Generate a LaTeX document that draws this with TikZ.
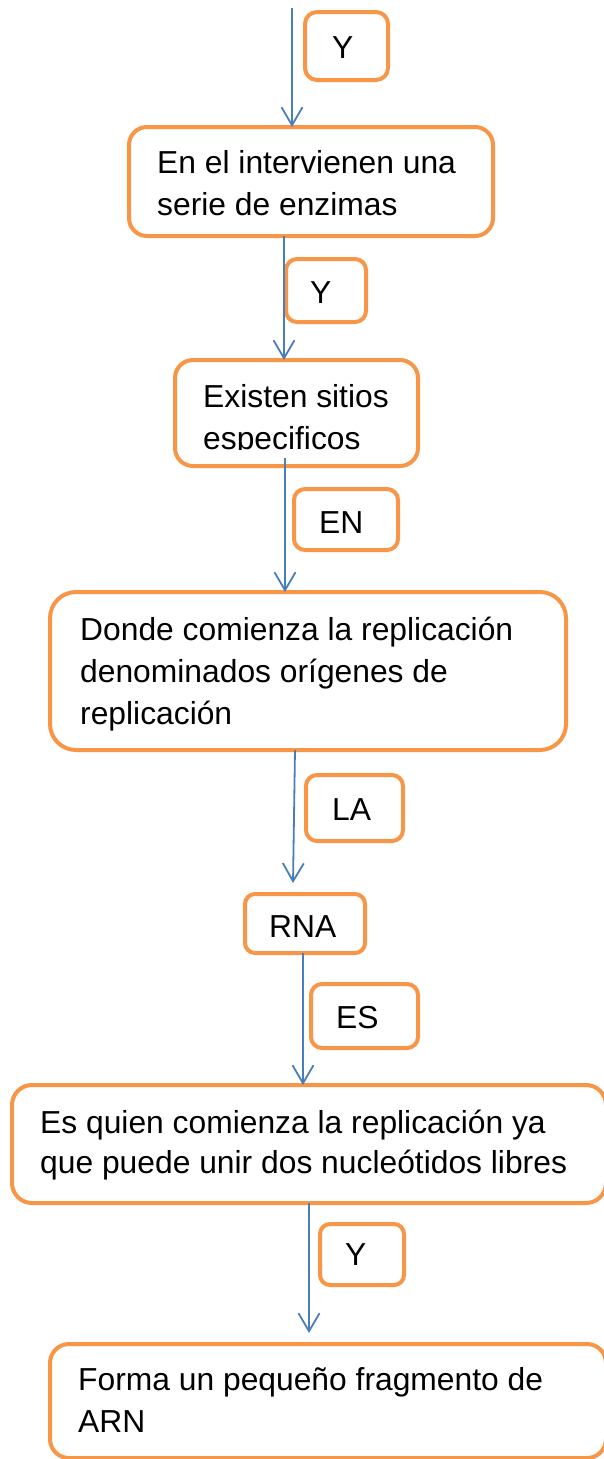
\documentclass[tikz,border=0pt]{standalone}
\usepackage{fontspec}
\setmainfont{Liberation Sans}
\usetikzlibrary{arrows.meta}
\definecolor{boxorange}{HTML}{F79646}
\definecolor{arrowblue}{HTML}{4A7EBB}
\newcommand\bigtxt{\fontsize{31.8}{42}\selectfont}
\begin{document}
\begin{tikzpicture}[x=1pt,y=-1pt,
  box/.style={draw=boxorange, line width=4pt, fill=white, inner sep=0pt, outer sep=0pt, anchor=north west},
  lbl/.style={anchor=base west, inner sep=0pt, font=\bigtxt, text=black},
  arr/.style={draw=arrowblue, line width=1.8pt, -{Straight Barb[length=18pt,width=21pt,line width=1.8pt]}}]
\useasboundingbox (0,0) rectangle (604,1459);
\fill[white] (0,0) rectangle (604,1459);
% boxes
\node[box, rounded corners=12pt, minimum width=83pt,  minimum height=68pt]  (y1)  at (305,12)  {};
\node[box, rounded corners=18pt, minimum width=364pt, minimum height=109pt] (b1)  at (129,127) {};
\node[box, rounded corners=11pt, minimum width=80pt,  minimum height=63pt]  (y2)  at (286,259) {};
\node[box, rounded corners=18pt, minimum width=243pt, minimum height=106pt] (b2)  at (175,360) {};
\node[box, rounded corners=11pt, minimum width=104pt, minimum height=61pt]  (en)  at (294,489) {};
\node[box, rounded corners=26pt, minimum width=516pt, minimum height=158pt] (b3)  at (50,592)  {};
\node[box, rounded corners=11pt, minimum width=97pt,  minimum height=66pt]  (la)  at (306,775) {};
\node[box, rounded corners=10pt, minimum width=120pt, minimum height=59pt]  (rna) at (245,894) {};
\node[box, rounded corners=11pt, minimum width=107pt, minimum height=64pt]  (es)  at (311,984) {};
\node[box, rounded corners=20pt, minimum width=594pt, minimum height=118pt] (b4)  at (12,1085) {};
\node[box, rounded corners=10pt, minimum width=84pt,  minimum height=61pt]  (y4)  at (320,1224) {};
\node[box, rounded corners=19pt, minimum width=556pt, minimum height=114pt] (b5)  at (50,1344) {};
% texts
\node[lbl] (ty1) at (332,58) {Y};
\node[lbl] (t1a) at (157,173) {En el intervienen una};
\node[lbl] (t1b) at (157,215) {serie de enzimas};
\node[lbl] (ty2) at (310,303) {Y};
\node[lbl] (t2a) at (203,407) {Existen sitios};
\begin{scope}
\clip (150,420) rectangle (440,449.5);
\node[lbl] (t2b) at (203,449) {especificos};
\end{scope}
\node[lbl] (ten) at (319,533) {EN};
\node[lbl] (t3a) at (80,640) {Donde comienza la replicación};
\node[lbl] (t3b) at (80,682) {denominados orígenes de};
\node[lbl] (t3c) at (80,724) {replicación};
\node[lbl] (tla) at (332,820) {LA};
\node[lbl] (trna) at (269,937) {RNA};
\node[lbl] (tes) at (336,1028) {ES};
\node[lbl] (t4a) at (40,1133) {Es quien comienza la replicación ya};
\node[lbl] (t4b) at (40,1173) {que puede unir dos nucleótidos libres};
\node[lbl] (ty4) at (345,1265) {Y};
\node[lbl] (t5a) at (78,1390) {Forma un pequeño fragmento de};
\node[lbl] (t5b) at (78,1432) {ARN};
% connectors
\coordinate (start) at (292,8);
\draw[arr] (start) -- ([xshift=-19pt]b1.north);
\draw[arr] ([xshift=-27pt]b1.south) -- ([xshift=-12.5pt]b2.north);
\draw[arr] ([xshift=-11.5pt,yshift=8pt]b2.south) -- ([xshift=-23pt]b3.north);
\draw[arr] ([xshift=-13pt]b3.south) -- ([xshift=-12pt,yshift=11pt]rna.north);
\draw[arr] ([xshift=-2pt]rna.south) -- ([xshift=-6pt]b4.north);
\draw[arr] (b4.south) -- ([xshift=-19pt,yshift=11pt]b5.north);
\end{tikzpicture}
\end{document}
